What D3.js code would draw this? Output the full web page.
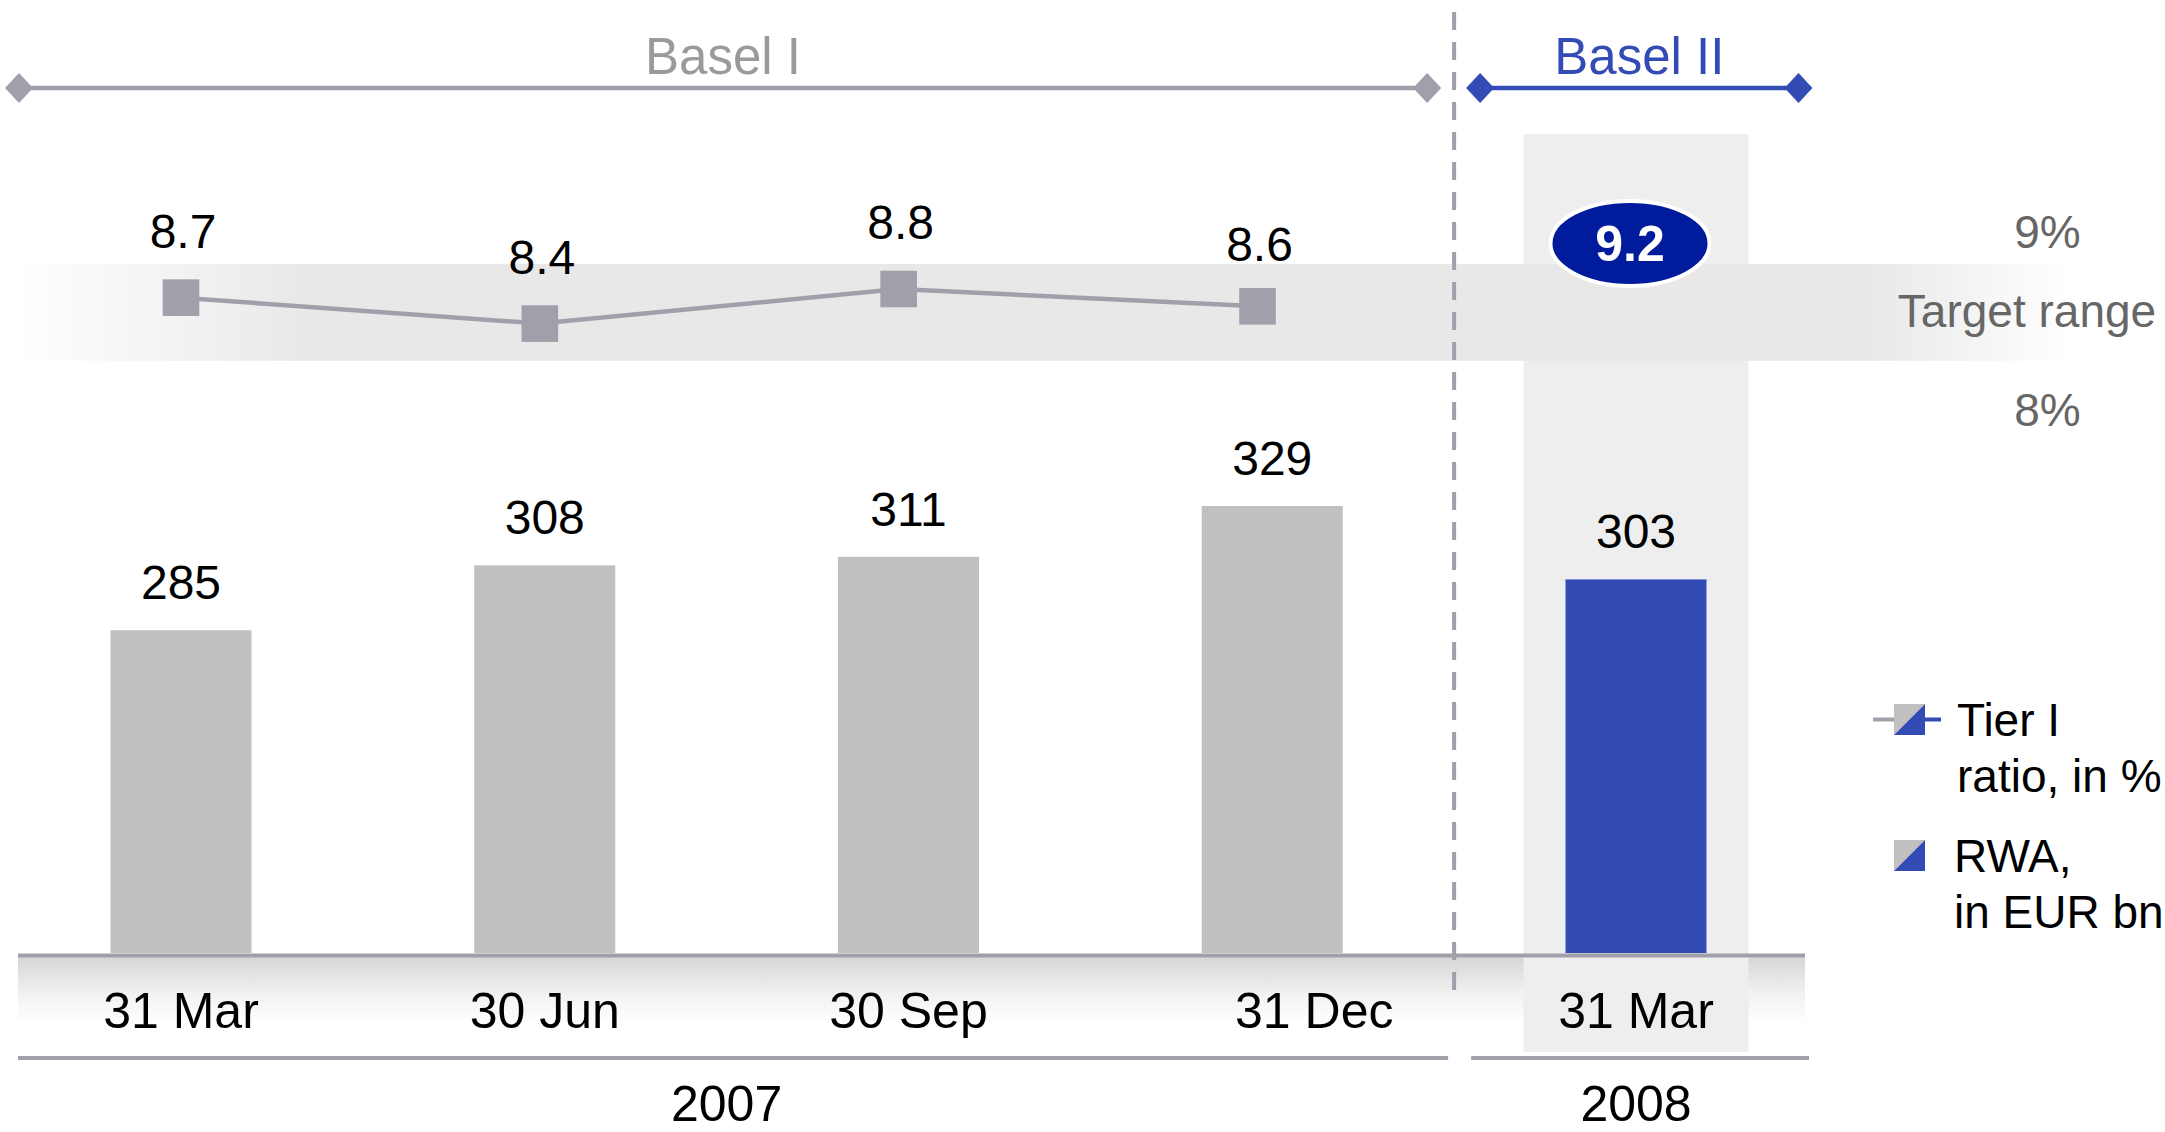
<!DOCTYPE html>
<html>
<head>
<meta charset="utf-8">
<script src="https://cdn.jsdelivr.net/npm/d3@7"></script>
<style>
  html, body { margin: 0; padding: 0; background: #ffffff; }
  svg { display: block; font-family: "Liberation Sans", Arial, Helvetica, sans-serif; }
</style>
</head>
<body>
<svg id="chart" width="2165" height="1132"></svg>
<script>
// ---- data ----
const periods = ["2007-03-31", "2007-06-30", "2007-09-30", "2007-12-31", "2008-03-31"];
const tickLabels = ["31 Mar", "30 Jun", "30 Sep", "31 Dec", "31 Mar"];
const rwa = [285, 308, 311, 329, 303];               // RWA, in EUR bn
const tier1 = [8.7, 8.4, 8.8, 8.6, 9.2];             // Tier I ratio, in %
const years = ["2007", "2008"];
const regimes = ["Basel I", "Basel II"];
const targetRange = [8, 9];                          // target range, in %
const targetLabels = ["9%", "Target range", "8%"];
const legendLabels = [["Tier I", "ratio, in %"], ["RWA,", "in EUR bn"]];

// ---- styles ----
const GREY_BAR = "#c0c0c0", BLUE = "#334cb5", DARK_BLUE = "#001c9c", LINE_GREY = "#a0a0ab";
const FONT = 50;

const svg = d3.select("#chart");
const defs = svg.append("defs");

// ---- scales ----
const x = d3.scalePoint().domain(periods).range([181, 1636]);
const xLine = d3.scalePoint().domain(periods.slice(0, 4)).range([181, 1257.5]);
const yBar = d3.scaleLinear().domain([170.7, 329]).range([953, 506]);
const yLine = d3.scaleLinear().domain([8, 9]).range([358.2, 271.7]);
const barW = 141;
const divider = (x(periods[3]) + x(periods[4])) / 2;

// gradients
const gBand = defs.append("linearGradient").attr("id", "bandGrad")
  .attr("gradientUnits", "userSpaceOnUse").attr("x1", 25).attr("x2", 2070).attr("y1", 0).attr("y2", 0);
[[0, 0.05], [0.14, 1], [0.9, 1], [1, 0]].forEach(([o, a]) =>
  gBand.append("stop").attr("offset", o).attr("stop-color", "#e8e8e8").attr("stop-opacity", a));

const gAxis = defs.append("linearGradient").attr("id", "axisGrad")
  .attr("x1", 0).attr("x2", 0).attr("y1", 0).attr("y2", 1);
gAxis.append("stop").attr("offset", 0).attr("stop-color", "#d6d6d6");
gAxis.append("stop").attr("offset", 0.55).attr("stop-color", "#f1f1f1");
gAxis.append("stop").attr("offset", 1).attr("stop-color", "#ffffff");

// ---- axis gradient area ----
svg.append("rect").attr("x", 18).attr("y", yBar.range()[0] + 4).attr("width", 1805 - 18).attr("height", 66)
  .attr("fill", "url(#axisGrad)");

// ---- highlight column for last period ----
svg.append("rect")
  .attr("x", x(periods[4]) - 112.5).attr("width", 225)
  .attr("y", 134).attr("height", 1052 - 134)
  .attr("fill", "#eeeeee");

// ---- target range band ----
svg.append("rect")
  .attr("x", 25).attr("width", 2070 - 25)
  .attr("y", yLine(targetRange[1] + 0.09))
  .attr("height", yLine(targetRange[0] - 0.03) - yLine(targetRange[1] + 0.09))
  .attr("fill", "url(#bandGrad)");

// ---- bars ----
svg.selectAll("rect.bar").data(periods).join("rect").attr("class", "bar")
  .attr("x", d => x(d) - barW / 2).attr("width", barW)
  .attr("y", (d, i) => yBar(rwa[i]))
  .attr("height", (d, i) => yBar.range()[0] - yBar(rwa[i]))
  .attr("fill", (d, i) => i === 4 ? BLUE : GREY_BAR);

svg.selectAll("text.val").data(periods).join("text").attr("class", "val")
  .attr("x", d => x(d)).attr("y", (d, i) => yBar(rwa[i]) - 31)
  .attr("text-anchor", "middle").attr("font-size", 48).attr("fill", "#000")
  .text((d, i) => rwa[i]);

// ---- baseline & bottom lines ----
svg.append("line").attr("x1", 18).attr("x2", 1805)
  .attr("y1", yBar.range()[0] + 2.5).attr("y2", yBar.range()[0] + 2.5)
  .attr("stroke", LINE_GREY).attr("stroke-width", 4);
svg.append("line").attr("x1", 18).attr("x2", divider - 6).attr("y1", 1058).attr("y2", 1058)
  .attr("stroke", LINE_GREY).attr("stroke-width", 4);
svg.append("line").attr("x1", divider + 17).attr("x2", 1809).attr("y1", 1058).attr("y2", 1058)
  .attr("stroke", LINE_GREY).attr("stroke-width", 4);

// ---- dashed divider ----
svg.append("line").attr("x1", divider).attr("x2", divider).attr("y1", 12).attr("y2", 997)
  .attr("stroke", LINE_GREY).attr("stroke-width", 4).attr("stroke-dasharray", "18 12");

// ---- category labels ----
svg.selectAll("text.cat").data(periods).join("text").attr("class", "cat")
  .attr("x", (d, i) => x(d) + (i === 3 ? 42 : 0)).attr("y", 1028)
  .attr("text-anchor", "middle").attr("font-size", FONT).attr("fill", "#000")
  .text((d, i) => tickLabels[i]);

// ---- year labels ----
const yearX = [(x(periods[0]) + x(periods[3])) / 2, x(periods[4])];
svg.selectAll("text.year").data(years).join("text").attr("class", "year")
  .attr("x", (d, i) => yearX[i]).attr("y", 1121)
  .attr("text-anchor", "middle").attr("font-size", FONT).attr("fill", "#000")
  .text(d => d);

// ---- Tier I line ----
const linePts = periods.slice(0, 4).map((p, i) => [xLine(p), yLine(tier1[i])]);
svg.append("path").attr("d", d3.line()(linePts))
  .attr("fill", "none").attr("stroke", LINE_GREY).attr("stroke-width", 4.5);
svg.selectAll("rect.mk").data(linePts).join("rect").attr("class", "mk")
  .attr("x", d => d[0] - 18.3).attr("y", d => d[1] - 18.3)
  .attr("width", 36.6).attr("height", 36.6).attr("fill", LINE_GREY);
svg.selectAll("text.lv").data(linePts).join("text").attr("class", "lv")
  .attr("x", d => d[0] + 2).attr("y", (d, i) => d[1] - (i === 3 ? 45 : 50))
  .attr("text-anchor", "middle").attr("font-size", 48).attr("fill", "#000")
  .text((d, i) => tier1[i].toFixed(1));

// ---- highlighted Basel II ratio ----
const ex = x(periods[4]) - 6, ey = yLine(tier1[4]) - 11;
svg.append("ellipse").attr("cx", ex).attr("cy", ey).attr("rx", 79.5).attr("ry", 42.5)
  .attr("fill", DARK_BLUE).attr("stroke", "#ffffff").attr("stroke-width", 4);
svg.append("text").attr("x", ex).attr("y", ey + 18)
  .attr("text-anchor", "middle").attr("font-size", 50).attr("font-weight", "bold")
  .attr("fill", "#ffffff").text(tier1[4].toFixed(1));

// ---- target range labels ----
const tX = 2047.5;
svg.append("text").attr("x", tX).attr("y", 247.7).attr("text-anchor", "middle")
  .attr("font-size", 46).attr("fill", "#666").text(targetLabels[0]);
svg.append("text").attr("x", 2027).attr("y", 326.7).attr("text-anchor", "middle")
  .attr("font-size", 46).attr("fill", "#666").text(targetLabels[1]);
svg.append("text").attr("x", tX).attr("y", 426).attr("text-anchor", "middle")
  .attr("font-size", 46).attr("fill", "#666").text(targetLabels[2]);

// ---- Basel brackets ----
function diamond(cx, cy, color) {
  svg.append("path")
    .attr("d", `M${cx - 14},${cy} L${cx},${cy - 15} L${cx + 14},${cy} L${cx},${cy + 15} Z`)
    .attr("fill", color);
}
const bY = 88;
const brackets = [
  { x1: 19, x2: divider - 27, color: LINE_GREY, text: "#9a9a9a" },
  { x1: divider + 26, x2: 1798.5, color: BLUE, text: BLUE }
];
brackets.forEach((b, i) => {
  svg.append("line").attr("x1", b.x1).attr("x2", b.x2).attr("y1", bY).attr("y2", bY)
    .attr("stroke", b.color).attr("stroke-width", 4.5);
  diamond(b.x1, bY, b.color);
  diamond(b.x2, bY, b.color);
  svg.append("text").attr("x", (b.x1 + b.x2) / 2).attr("y", 74)
    .attr("text-anchor", "middle").attr("font-size", 51).attr("fill", b.text)
    .text(regimes[i]);
});

// ---- legend ----
function splitSquare(x0, y0, s) {
  svg.append("path").attr("d", `M${x0},${y0} L${x0 + s},${y0} L${x0},${y0 + s} Z`).attr("fill", GREY_BAR);
  svg.append("path").attr("d", `M${x0 + s},${y0} L${x0 + s},${y0 + s} L${x0},${y0 + s} Z`).attr("fill", BLUE);
}
svg.append("line").attr("x1", 1873).attr("x2", 1894).attr("y1", 719.5).attr("y2", 719.5)
  .attr("stroke", LINE_GREY).attr("stroke-width", 4);
svg.append("line").attr("x1", 1925).attr("x2", 1941).attr("y1", 719.5).attr("y2", 719.5)
  .attr("stroke", BLUE).attr("stroke-width", 4);
splitSquare(1894, 704, 31);
splitSquare(1894, 840, 31);

const legY = [[736, 792], [872, 928]];
const legX = [1957, 1954];
legendLabels.forEach((lines, i) => {
  lines.forEach((t, j) => {
    svg.append("text").attr("x", legX[i]).attr("y", legY[i][j])
      .attr("font-size", 46).attr("fill", "#000").text(t);
  });
});
</script>
</body>
</html>
